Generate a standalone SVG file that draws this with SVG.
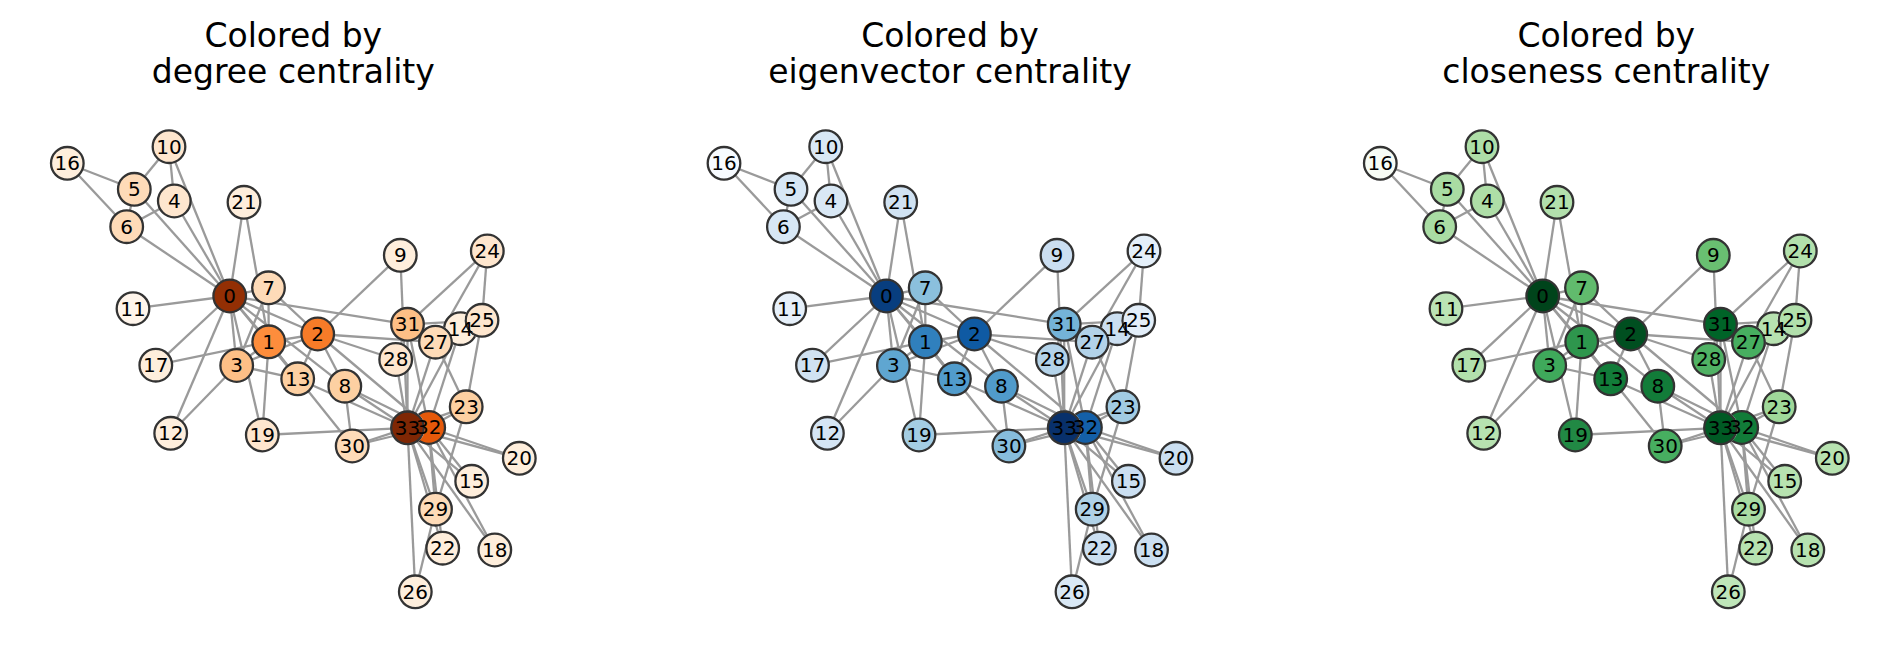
<svg xmlns="http://www.w3.org/2000/svg" width="1900" height="659" viewBox="0 0 1900 659">
<style>
.title{font-family:"DejaVu Sans","Liberation Sans",sans-serif;font-size:33px;text-anchor:middle;fill:#000}
.edges line{stroke:#9a9a9a;stroke-width:2.3;stroke-linecap:butt}
.n circle{stroke:#333;stroke-width:2.3}
.n text{font-family:"DejaVu Sans","Liberation Sans",sans-serif;font-size:20px;text-anchor:middle;fill:#000;transform:translate(0px,0.9px)}
</style>
<defs>
<clipPath id="not33" clipPathUnits="userSpaceOnUse"><path clip-rule="evenodd" d="M-10,-10H670V670H-10Z M425,427.8 A17.5,17.5 0 1 0 390,427.8 A17.5,17.5 0 1 0 425,427.8Z"/></clipPath>
<clipPath id="not25and27" clipPathUnits="userSpaceOnUse"><path clip-rule="evenodd" d="M-10,-10H670V670H-10Z M499.5,320.3 A17.5,17.5 0 1 0 464.5,320.3 A17.5,17.5 0 1 0 499.5,320.3Z M453,342.2 A17.5,17.5 0 1 0 418,342.2 A17.5,17.5 0 1 0 453,342.2Z"/></clipPath>
</defs>
<rect width="1900" height="659" fill="#fff"/>

<!-- ===================== Panel 1: degree ===================== -->
<g id="panel-degree">
<text class="title" x="293.3" y="46.5">Colored by</text>
<text class="title" x="293.3" y="83.3">degree centrality</text>
<g id="deg-edges" class="edges">
<line x1="229.7" y1="296" x2="268.7" y2="341.8"/><line x1="229.7" y1="296" x2="317.7" y2="334"/><line x1="229.7" y1="296" x2="236.7" y2="365.5"/><line x1="229.7" y1="296" x2="174.3" y2="201"/><line x1="229.7" y1="296" x2="134.3" y2="189.3"/><line x1="229.7" y1="296" x2="126.7" y2="226.7"/><line x1="229.7" y1="296" x2="268.5" y2="287.8"/><line x1="229.7" y1="296" x2="344.8" y2="386.2"/><line x1="229.7" y1="296" x2="169" y2="146.7"/><line x1="229.7" y1="296" x2="133" y2="308.7"/><line x1="229.7" y1="296" x2="170.7" y2="433.3"/><line x1="229.7" y1="296" x2="297.7" y2="378.8"/><line x1="229.7" y1="296" x2="155.8" y2="365.2"/><line x1="229.7" y1="296" x2="262.3" y2="435"/><line x1="229.7" y1="296" x2="244" y2="202.3"/><line x1="229.7" y1="296" x2="407.5" y2="324.3"/>
<line x1="268.7" y1="341.8" x2="317.7" y2="334"/><line x1="268.7" y1="341.8" x2="236.7" y2="365.5"/><line x1="268.7" y1="341.8" x2="268.5" y2="287.8"/><line x1="268.7" y1="341.8" x2="297.7" y2="378.8"/><line x1="268.7" y1="341.8" x2="155.8" y2="365.2"/><line x1="268.7" y1="341.8" x2="262.3" y2="435"/><line x1="268.7" y1="341.8" x2="244" y2="202.3"/><line x1="268.7" y1="341.8" x2="352.2" y2="446"/>
<line x1="317.7" y1="334" x2="236.7" y2="365.5"/><line x1="317.7" y1="334" x2="268.5" y2="287.8"/><line x1="317.7" y1="334" x2="344.8" y2="386.2"/><line x1="317.7" y1="334" x2="400.3" y2="255.3"/><line x1="317.7" y1="334" x2="297.7" y2="378.8"/><line x1="317.7" y1="334" x2="435.5" y2="342.2"/><line x1="317.7" y1="334" x2="395.7" y2="359.5"/><line x1="317.7" y1="334" x2="428.7" y2="427.5"/>
<line x1="236.7" y1="365.5" x2="268.5" y2="287.8"/><line x1="236.7" y1="365.5" x2="170.7" y2="433.3"/><line x1="236.7" y1="365.5" x2="297.7" y2="378.8"/>
<line x1="174.3" y1="201" x2="126.7" y2="226.7"/><line x1="174.3" y1="201" x2="169" y2="146.7"/>
<line x1="134.3" y1="189.3" x2="126.7" y2="226.7"/><line x1="134.3" y1="189.3" x2="169" y2="146.7"/><line x1="134.3" y1="189.3" x2="67.3" y2="163.3"/>
<line x1="126.7" y1="226.7" x2="67.3" y2="163.3"/>
<line x1="344.8" y1="386.2" x2="352.2" y2="446"/><line x1="344.8" y1="386.2" x2="428.7" y2="427.5"/><line x1="344.8" y1="386.2" x2="407.5" y2="427.8"/>
<line x1="400.3" y1="255.3" x2="407.5" y2="427.8"/>
<line x1="297.7" y1="378.8" x2="407.5" y2="427.8"/>
<line x1="460.5" y1="328.7" x2="428.7" y2="427.5"/><line x1="460.5" y1="328.7" x2="407.5" y2="427.8"/>
<line x1="471.7" y1="481.3" x2="428.7" y2="427.5"/><line x1="471.7" y1="481.3" x2="407.5" y2="427.8"/>
<line x1="494.8" y1="550" x2="428.7" y2="427.5"/><line x1="494.8" y1="550" x2="407.5" y2="427.8"/>
<line x1="262.3" y1="435" x2="407.5" y2="427.8"/>
<line x1="519.3" y1="458.3" x2="428.7" y2="427.5"/><line x1="519.3" y1="458.3" x2="407.5" y2="427.8"/>
<line x1="442.7" y1="548.2" x2="428.7" y2="427.5"/><line x1="442.7" y1="548.2" x2="407.5" y2="427.8"/>
<line x1="466.2" y1="406.8" x2="482" y2="320.3"/><line x1="466.2" y1="406.8" x2="435.5" y2="342.2"/><line x1="466.2" y1="406.8" x2="435.5" y2="509.2"/><line x1="466.2" y1="406.8" x2="428.7" y2="427.5"/><line x1="466.2" y1="406.8" x2="407.5" y2="427.8"/>
<line x1="487.3" y1="251" x2="482" y2="320.3"/><line x1="487.3" y1="251" x2="435.5" y2="342.2"/><line x1="487.3" y1="251" x2="407.5" y2="324.3"/>
<line x1="482" y1="320.3" x2="407.5" y2="324.3"/>
<line x1="415.3" y1="591.8" x2="435.5" y2="509.2"/><line x1="415.3" y1="591.8" x2="407.5" y2="427.8"/>
<line x1="435.5" y1="342.2" x2="407.5" y2="427.8"/>
<line x1="395.7" y1="359.5" x2="407.5" y2="324.3"/><line x1="395.7" y1="359.5" x2="407.5" y2="427.8"/>
<line x1="435.5" y1="509.2" x2="428.7" y2="427.5"/><line x1="435.5" y1="509.2" x2="407.5" y2="427.8"/>
<line x1="352.2" y1="446" x2="428.7" y2="427.5"/><line x1="352.2" y1="446" x2="407.5" y2="427.8"/>
<line x1="407.5" y1="324.3" x2="428.7" y2="427.5"/><line x1="407.5" y1="324.3" x2="407.5" y2="427.8"/>
<line x1="428.7" y1="427.5" x2="407.5" y2="427.8"/>
</g>
<g id="deg-nodes">
<g id="deg-n0" class="n"><circle cx="229.7" cy="296" r="16.3" fill="#932f04"/><text x="229.7" y="302">0</text></g>
<g id="deg-n1" class="n"><circle cx="268.7" cy="341.8" r="16.3" fill="#fd8d3c"/><text x="268.7" y="347.8">1</text></g>
<g id="deg-n2" class="n"><circle cx="317.7" cy="334" r="16.3" fill="#f77b28"/><text x="317.7" y="340">2</text></g>
<g id="deg-n3" class="n"><circle cx="236.7" cy="365.5" r="16.3" fill="#fdbf86"/><text x="236.7" y="371.5">3</text></g>
<g id="deg-n4" class="n"><circle cx="174.3" cy="201" r="16.3" fill="#fee6ce"/><text x="174.3" y="207">4</text></g>
<g id="deg-n5" class="n"><circle cx="134.3" cy="189.3" r="16.3" fill="#fedbb8"/><text x="134.3" y="195.3">5</text></g>
<g id="deg-n6" class="n"><circle cx="126.7" cy="226.7" r="16.3" fill="#fedbb8"/><text x="126.7" y="232.7">6</text></g>
<g id="deg-n7" class="n"><circle cx="268.5" cy="287.8" r="16.3" fill="#fedbb8"/><text x="268.5" y="293.8">7</text></g>
<g id="deg-n8" class="n"><circle cx="344.8" cy="386.2" r="16.3" fill="#fdd0a2"/><text x="344.8" y="392.2">8</text></g>
<g id="deg-n9" class="n"><circle cx="400.3" cy="255.3" r="16.3" fill="#feeedc"/><text x="400.3" y="261.3">9</text></g>
<g id="deg-n10" class="n"><circle cx="169" cy="146.7" r="16.3" fill="#fee6ce"/><text x="169" y="152.7">10</text></g>
<g id="deg-n11" class="n"><circle cx="133" cy="308.7" r="16.3" fill="#fff5eb"/><text x="133" y="314.7">11</text></g>
<g id="deg-n12" class="n"><circle cx="170.7" cy="433.3" r="16.3" fill="#feeedc"/><text x="170.7" y="439.3">12</text></g>
<g id="deg-n13" class="n"><circle cx="297.7" cy="378.8" r="16.3" fill="#fdd0a2"/><text x="297.7" y="384.8">13</text></g>
<g id="deg-n15" class="n"><circle cx="471.7" cy="481.3" r="16.3" fill="#feeedc"/><text x="471.7" y="487.3">15</text></g>
<g id="deg-n16" class="n"><circle cx="67.3" cy="163.3" r="16.3" fill="#feeedc"/><text x="67.3" y="169.3">16</text></g>
<g id="deg-n17" class="n"><circle cx="155.8" cy="365.2" r="16.3" fill="#feeedc"/><text x="155.8" y="371.2">17</text></g>
<g id="deg-n18" class="n"><circle cx="494.8" cy="550" r="16.3" fill="#feeedc"/><text x="494.8" y="556">18</text></g>
<g id="deg-n19" class="n"><circle cx="262.3" cy="435" r="16.3" fill="#fee6ce"/><text x="262.3" y="441">19</text></g>
<g id="deg-n20" class="n"><circle cx="519.3" cy="458.3" r="16.3" fill="#feeedc"/><text x="519.3" y="464.3">20</text></g>
<g id="deg-n21" class="n"><circle cx="244" cy="202.3" r="16.3" fill="#feeedc"/><text x="244" y="208.3">21</text></g>
<g id="deg-n22" class="n"><circle cx="442.7" cy="548.2" r="16.3" fill="#feeedc"/><text x="442.7" y="554.2">22</text></g>
<g id="deg-n23" class="n"><circle cx="466.2" cy="406.8" r="16.3" fill="#fdd0a2"/><text x="466.2" y="412.8">23</text></g>
<g id="deg-n24" class="n"><circle cx="487.3" cy="251" r="16.3" fill="#fee6ce"/><text x="487.3" y="257">24</text></g>
<g id="deg-n25" class="n"><circle cx="482" cy="320.3" r="16.3" fill="#fee6ce"/><text x="482" y="326.3">25</text></g>
<g id="deg-n26" class="n"><circle cx="415.3" cy="591.8" r="16.3" fill="#feeedc"/><text x="415.3" y="597.8">26</text></g>
<g id="deg-n27" class="n"><circle cx="435.5" cy="342.2" r="16.3" fill="#fedbb8"/><text x="435.5" y="348.2">27</text></g>
<g id="deg-n28" class="n"><circle cx="395.7" cy="359.5" r="16.3" fill="#fee6ce"/><text x="395.7" y="365.5">28</text></g>
<g id="deg-n29" class="n"><circle cx="435.5" cy="509.2" r="16.3" fill="#fedbb8"/><text x="435.5" y="515.2">29</text></g>
<g id="deg-n30" class="n"><circle cx="352.2" cy="446" r="16.3" fill="#fedbb8"/><text x="352.2" y="452">30</text></g>
<g id="deg-n31" class="n"><circle cx="407.5" cy="324.3" r="16.3" fill="#fdbf86"/><text x="407.5" y="330.3">31</text></g>
<g id="deg-n33" class="n"><circle cx="407.5" cy="427.8" r="16.3" fill="#7f2704"/><text x="407.5" y="433.8">33</text></g>
<g id="deg-n32" class="n"><circle cx="428.7" cy="427.5" r="16.3" fill="#e5590a" clip-path="url(#not33)"/><text x="428.7" y="433.5">32</text></g>
<g id="deg-n14" class="n"><circle cx="460.5" cy="328.7" r="16.3" fill="#feeedc" clip-path="url(#not25and27)"/><text x="460.5" y="334.7">14</text></g>
</g>
</g>

<!-- ===================== Panel 2: eigenvector ===================== -->
<g id="panel-eigenvector" transform="translate(656.7,0)">
<text class="title" x="293.3" y="46.5">Colored by</text>
<text class="title" x="293.3" y="83.3">eigenvector centrality</text>
<g id="eig-edges" class="edges">
<line x1="229.7" y1="296" x2="268.7" y2="341.8"/><line x1="229.7" y1="296" x2="317.7" y2="334"/><line x1="229.7" y1="296" x2="236.7" y2="365.5"/><line x1="229.7" y1="296" x2="174.3" y2="201"/><line x1="229.7" y1="296" x2="134.3" y2="189.3"/><line x1="229.7" y1="296" x2="126.7" y2="226.7"/><line x1="229.7" y1="296" x2="268.5" y2="287.8"/><line x1="229.7" y1="296" x2="344.8" y2="386.2"/><line x1="229.7" y1="296" x2="169" y2="146.7"/><line x1="229.7" y1="296" x2="133" y2="308.7"/><line x1="229.7" y1="296" x2="170.7" y2="433.3"/><line x1="229.7" y1="296" x2="297.7" y2="378.8"/><line x1="229.7" y1="296" x2="155.8" y2="365.2"/><line x1="229.7" y1="296" x2="262.3" y2="435"/><line x1="229.7" y1="296" x2="244" y2="202.3"/><line x1="229.7" y1="296" x2="407.5" y2="324.3"/>
<line x1="268.7" y1="341.8" x2="317.7" y2="334"/><line x1="268.7" y1="341.8" x2="236.7" y2="365.5"/><line x1="268.7" y1="341.8" x2="268.5" y2="287.8"/><line x1="268.7" y1="341.8" x2="297.7" y2="378.8"/><line x1="268.7" y1="341.8" x2="155.8" y2="365.2"/><line x1="268.7" y1="341.8" x2="262.3" y2="435"/><line x1="268.7" y1="341.8" x2="244" y2="202.3"/><line x1="268.7" y1="341.8" x2="352.2" y2="446"/>
<line x1="317.7" y1="334" x2="236.7" y2="365.5"/><line x1="317.7" y1="334" x2="268.5" y2="287.8"/><line x1="317.7" y1="334" x2="344.8" y2="386.2"/><line x1="317.7" y1="334" x2="400.3" y2="255.3"/><line x1="317.7" y1="334" x2="297.7" y2="378.8"/><line x1="317.7" y1="334" x2="435.5" y2="342.2"/><line x1="317.7" y1="334" x2="395.7" y2="359.5"/><line x1="317.7" y1="334" x2="428.7" y2="427.5"/>
<line x1="236.7" y1="365.5" x2="268.5" y2="287.8"/><line x1="236.7" y1="365.5" x2="170.7" y2="433.3"/><line x1="236.7" y1="365.5" x2="297.7" y2="378.8"/>
<line x1="174.3" y1="201" x2="126.7" y2="226.7"/><line x1="174.3" y1="201" x2="169" y2="146.7"/>
<line x1="134.3" y1="189.3" x2="126.7" y2="226.7"/><line x1="134.3" y1="189.3" x2="169" y2="146.7"/><line x1="134.3" y1="189.3" x2="67.3" y2="163.3"/>
<line x1="126.7" y1="226.7" x2="67.3" y2="163.3"/>
<line x1="344.8" y1="386.2" x2="352.2" y2="446"/><line x1="344.8" y1="386.2" x2="428.7" y2="427.5"/><line x1="344.8" y1="386.2" x2="407.5" y2="427.8"/>
<line x1="400.3" y1="255.3" x2="407.5" y2="427.8"/>
<line x1="297.7" y1="378.8" x2="407.5" y2="427.8"/>
<line x1="460.5" y1="328.7" x2="428.7" y2="427.5"/><line x1="460.5" y1="328.7" x2="407.5" y2="427.8"/>
<line x1="471.7" y1="481.3" x2="428.7" y2="427.5"/><line x1="471.7" y1="481.3" x2="407.5" y2="427.8"/>
<line x1="494.8" y1="550" x2="428.7" y2="427.5"/><line x1="494.8" y1="550" x2="407.5" y2="427.8"/>
<line x1="262.3" y1="435" x2="407.5" y2="427.8"/>
<line x1="519.3" y1="458.3" x2="428.7" y2="427.5"/><line x1="519.3" y1="458.3" x2="407.5" y2="427.8"/>
<line x1="442.7" y1="548.2" x2="428.7" y2="427.5"/><line x1="442.7" y1="548.2" x2="407.5" y2="427.8"/>
<line x1="466.2" y1="406.8" x2="482" y2="320.3"/><line x1="466.2" y1="406.8" x2="435.5" y2="342.2"/><line x1="466.2" y1="406.8" x2="435.5" y2="509.2"/><line x1="466.2" y1="406.8" x2="428.7" y2="427.5"/><line x1="466.2" y1="406.8" x2="407.5" y2="427.8"/>
<line x1="487.3" y1="251" x2="482" y2="320.3"/><line x1="487.3" y1="251" x2="435.5" y2="342.2"/><line x1="487.3" y1="251" x2="407.5" y2="324.3"/>
<line x1="482" y1="320.3" x2="407.5" y2="324.3"/>
<line x1="415.3" y1="591.8" x2="435.5" y2="509.2"/><line x1="415.3" y1="591.8" x2="407.5" y2="427.8"/>
<line x1="435.5" y1="342.2" x2="407.5" y2="427.8"/>
<line x1="395.7" y1="359.5" x2="407.5" y2="324.3"/><line x1="395.7" y1="359.5" x2="407.5" y2="427.8"/>
<line x1="435.5" y1="509.2" x2="428.7" y2="427.5"/><line x1="435.5" y1="509.2" x2="407.5" y2="427.8"/>
<line x1="352.2" y1="446" x2="428.7" y2="427.5"/><line x1="352.2" y1="446" x2="407.5" y2="427.8"/>
<line x1="407.5" y1="324.3" x2="428.7" y2="427.5"/><line x1="407.5" y1="324.3" x2="407.5" y2="427.8"/>
<line x1="428.7" y1="427.5" x2="407.5" y2="427.8"/>
</g>
<g id="eig-nodes">
<g id="eig-n0" class="n"><circle cx="229.7" cy="296" r="16.3" fill="#083e7f"/><text x="229.7" y="302">0</text></g>
<g id="eig-n1" class="n"><circle cx="268.7" cy="341.8" r="16.3" fill="#3080bd"/><text x="268.7" y="347.8">1</text></g>
<g id="eig-n2" class="n"><circle cx="317.7" cy="334" r="16.3" fill="#0f5aa3"/><text x="317.7" y="340">2</text></g>
<g id="eig-n3" class="n"><circle cx="236.7" cy="365.5" r="16.3" fill="#5fa6d1"/><text x="236.7" y="371.5">3</text></g>
<g id="eig-n4" class="n"><circle cx="174.3" cy="201" r="16.3" fill="#d9e8f5"/><text x="174.3" y="207">4</text></g>
<g id="eig-n5" class="n"><circle cx="134.3" cy="189.3" r="16.3" fill="#d7e7f5"/><text x="134.3" y="195.3">5</text></g>
<g id="eig-n6" class="n"><circle cx="126.7" cy="226.7" r="16.3" fill="#d7e7f5"/><text x="126.7" y="232.7">6</text></g>
<g id="eig-n7" class="n"><circle cx="268.5" cy="287.8" r="16.3" fill="#8bc0dd"/><text x="268.5" y="293.8">7</text></g>
<g id="eig-n8" class="n"><circle cx="344.8" cy="386.2" r="16.3" fill="#509bcb"/><text x="344.8" y="392.2">8</text></g>
<g id="eig-n9" class="n"><circle cx="400.3" cy="255.3" r="16.3" fill="#cbdef1"/><text x="400.3" y="261.3">9</text></g>
<g id="eig-n10" class="n"><circle cx="169" cy="146.7" r="16.3" fill="#d9e8f5"/><text x="169" y="152.7">10</text></g>
<g id="eig-n11" class="n"><circle cx="133" cy="308.7" r="16.3" fill="#e6f0fa"/><text x="133" y="314.7">11</text></g>
<g id="eig-n12" class="n"><circle cx="170.7" cy="433.3" r="16.3" fill="#d5e5f4"/><text x="170.7" y="439.3">12</text></g>
<g id="eig-n13" class="n"><circle cx="297.7" cy="378.8" r="16.3" fill="#519ccc"/><text x="297.7" y="384.8">13</text></g>
<g id="eig-n15" class="n"><circle cx="471.7" cy="481.3" r="16.3" fill="#cbdff1"/><text x="471.7" y="487.3">15</text></g>
<g id="eig-n16" class="n"><circle cx="67.3" cy="163.3" r="16.3" fill="#f7fbff"/><text x="67.3" y="169.3">16</text></g>
<g id="eig-n17" class="n"><circle cx="155.8" cy="365.2" r="16.3" fill="#d0e2f2"/><text x="155.8" y="371.2">17</text></g>
<g id="eig-n18" class="n"><circle cx="494.8" cy="550" r="16.3" fill="#cbdff1"/><text x="494.8" y="556">18</text></g>
<g id="eig-n19" class="n"><circle cx="262.3" cy="435" r="16.3" fill="#a4cde3"/><text x="262.3" y="441">19</text></g>
<g id="eig-n20" class="n"><circle cx="519.3" cy="458.3" r="16.3" fill="#cbdff1"/><text x="519.3" y="464.3">20</text></g>
<g id="eig-n21" class="n"><circle cx="244" cy="202.3" r="16.3" fill="#d0e2f2"/><text x="244" y="208.3">21</text></g>
<g id="eig-n22" class="n"><circle cx="442.7" cy="548.2" r="16.3" fill="#cbdff1"/><text x="442.7" y="554.2">22</text></g>
<g id="eig-n23" class="n"><circle cx="466.2" cy="406.8" r="16.3" fill="#a2cce3"/><text x="466.2" y="412.8">23</text></g>
<g id="eig-n24" class="n"><circle cx="487.3" cy="251" r="16.3" fill="#e4eff9"/><text x="487.3" y="257">24</text></g>
<g id="eig-n25" class="n"><circle cx="482" cy="320.3" r="16.3" fill="#e3eef9"/><text x="482" y="326.3">25</text></g>
<g id="eig-n26" class="n"><circle cx="415.3" cy="591.8" r="16.3" fill="#d9e8f5"/><text x="415.3" y="597.8">26</text></g>
<g id="eig-n27" class="n"><circle cx="435.5" cy="342.2" r="16.3" fill="#b2d2e8"/><text x="435.5" y="348.2">27</text></g>
<g id="eig-n28" class="n"><circle cx="395.7" cy="359.5" r="16.3" fill="#b4d3e9"/><text x="395.7" y="365.5">28</text></g>
<g id="eig-n29" class="n"><circle cx="435.5" cy="509.2" r="16.3" fill="#b0d2e7"/><text x="435.5" y="515.2">29</text></g>
<g id="eig-n30" class="n"><circle cx="352.2" cy="446" r="16.3" fill="#87bddc"/><text x="352.2" y="452">30</text></g>
<g id="eig-n31" class="n"><circle cx="407.5" cy="324.3" r="16.3" fill="#74b3d8"/><text x="407.5" y="330.3">31</text></g>
<g id="eig-n33" class="n"><circle cx="407.5" cy="427.8" r="16.3" fill="#08306b"/><text x="407.5" y="433.8">33</text></g>
<g id="eig-n32" class="n"><circle cx="428.7" cy="427.5" r="16.3" fill="#1460a8" clip-path="url(#not33)"/><text x="428.7" y="433.5">32</text></g>
<g id="eig-n14" class="n"><circle cx="460.5" cy="328.7" r="16.3" fill="#cbdff1" clip-path="url(#not25and27)"/><text x="460.5" y="334.7">14</text></g>
</g>
</g>

<!-- ===================== Panel 3: closeness ===================== -->
<g id="panel-closeness" transform="translate(1313,0)">
<text class="title" x="293.3" y="46.5">Colored by</text>
<text class="title" x="293.3" y="83.3">closeness centrality</text>
<g id="clo-edges" class="edges">
<line x1="229.7" y1="296" x2="268.7" y2="341.8"/><line x1="229.7" y1="296" x2="317.7" y2="334"/><line x1="229.7" y1="296" x2="236.7" y2="365.5"/><line x1="229.7" y1="296" x2="174.3" y2="201"/><line x1="229.7" y1="296" x2="134.3" y2="189.3"/><line x1="229.7" y1="296" x2="126.7" y2="226.7"/><line x1="229.7" y1="296" x2="268.5" y2="287.8"/><line x1="229.7" y1="296" x2="344.8" y2="386.2"/><line x1="229.7" y1="296" x2="169" y2="146.7"/><line x1="229.7" y1="296" x2="133" y2="308.7"/><line x1="229.7" y1="296" x2="170.7" y2="433.3"/><line x1="229.7" y1="296" x2="297.7" y2="378.8"/><line x1="229.7" y1="296" x2="155.8" y2="365.2"/><line x1="229.7" y1="296" x2="262.3" y2="435"/><line x1="229.7" y1="296" x2="244" y2="202.3"/><line x1="229.7" y1="296" x2="407.5" y2="324.3"/>
<line x1="268.7" y1="341.8" x2="317.7" y2="334"/><line x1="268.7" y1="341.8" x2="236.7" y2="365.5"/><line x1="268.7" y1="341.8" x2="268.5" y2="287.8"/><line x1="268.7" y1="341.8" x2="297.7" y2="378.8"/><line x1="268.7" y1="341.8" x2="155.8" y2="365.2"/><line x1="268.7" y1="341.8" x2="262.3" y2="435"/><line x1="268.7" y1="341.8" x2="244" y2="202.3"/><line x1="268.7" y1="341.8" x2="352.2" y2="446"/>
<line x1="317.7" y1="334" x2="236.7" y2="365.5"/><line x1="317.7" y1="334" x2="268.5" y2="287.8"/><line x1="317.7" y1="334" x2="344.8" y2="386.2"/><line x1="317.7" y1="334" x2="400.3" y2="255.3"/><line x1="317.7" y1="334" x2="297.7" y2="378.8"/><line x1="317.7" y1="334" x2="435.5" y2="342.2"/><line x1="317.7" y1="334" x2="395.7" y2="359.5"/><line x1="317.7" y1="334" x2="428.7" y2="427.5"/>
<line x1="236.7" y1="365.5" x2="268.5" y2="287.8"/><line x1="236.7" y1="365.5" x2="170.7" y2="433.3"/><line x1="236.7" y1="365.5" x2="297.7" y2="378.8"/>
<line x1="174.3" y1="201" x2="126.7" y2="226.7"/><line x1="174.3" y1="201" x2="169" y2="146.7"/>
<line x1="134.3" y1="189.3" x2="126.7" y2="226.7"/><line x1="134.3" y1="189.3" x2="169" y2="146.7"/><line x1="134.3" y1="189.3" x2="67.3" y2="163.3"/>
<line x1="126.7" y1="226.7" x2="67.3" y2="163.3"/>
<line x1="344.8" y1="386.2" x2="352.2" y2="446"/><line x1="344.8" y1="386.2" x2="428.7" y2="427.5"/><line x1="344.8" y1="386.2" x2="407.5" y2="427.8"/>
<line x1="400.3" y1="255.3" x2="407.5" y2="427.8"/>
<line x1="297.7" y1="378.8" x2="407.5" y2="427.8"/>
<line x1="460.5" y1="328.7" x2="428.7" y2="427.5"/><line x1="460.5" y1="328.7" x2="407.5" y2="427.8"/>
<line x1="471.7" y1="481.3" x2="428.7" y2="427.5"/><line x1="471.7" y1="481.3" x2="407.5" y2="427.8"/>
<line x1="494.8" y1="550" x2="428.7" y2="427.5"/><line x1="494.8" y1="550" x2="407.5" y2="427.8"/>
<line x1="262.3" y1="435" x2="407.5" y2="427.8"/>
<line x1="519.3" y1="458.3" x2="428.7" y2="427.5"/><line x1="519.3" y1="458.3" x2="407.5" y2="427.8"/>
<line x1="442.7" y1="548.2" x2="428.7" y2="427.5"/><line x1="442.7" y1="548.2" x2="407.5" y2="427.8"/>
<line x1="466.2" y1="406.8" x2="482" y2="320.3"/><line x1="466.2" y1="406.8" x2="435.5" y2="342.2"/><line x1="466.2" y1="406.8" x2="435.5" y2="509.2"/><line x1="466.2" y1="406.8" x2="428.7" y2="427.5"/><line x1="466.2" y1="406.8" x2="407.5" y2="427.8"/>
<line x1="487.3" y1="251" x2="482" y2="320.3"/><line x1="487.3" y1="251" x2="435.5" y2="342.2"/><line x1="487.3" y1="251" x2="407.5" y2="324.3"/>
<line x1="482" y1="320.3" x2="407.5" y2="324.3"/>
<line x1="415.3" y1="591.8" x2="435.5" y2="509.2"/><line x1="415.3" y1="591.8" x2="407.5" y2="427.8"/>
<line x1="435.5" y1="342.2" x2="407.5" y2="427.8"/>
<line x1="395.7" y1="359.5" x2="407.5" y2="324.3"/><line x1="395.7" y1="359.5" x2="407.5" y2="427.8"/>
<line x1="435.5" y1="509.2" x2="428.7" y2="427.5"/><line x1="435.5" y1="509.2" x2="407.5" y2="427.8"/>
<line x1="352.2" y1="446" x2="428.7" y2="427.5"/><line x1="352.2" y1="446" x2="407.5" y2="427.8"/>
<line x1="407.5" y1="324.3" x2="428.7" y2="427.5"/><line x1="407.5" y1="324.3" x2="407.5" y2="427.8"/>
<line x1="428.7" y1="427.5" x2="407.5" y2="427.8"/>
</g>
<g id="clo-nodes">
<g id="clo-n0" class="n"><circle cx="229.7" cy="296" r="16.3" fill="#00441b"/><text x="229.7" y="302">0</text></g>
<g id="clo-n1" class="n"><circle cx="268.7" cy="341.8" r="16.3" fill="#2e964d"/><text x="268.7" y="347.8">1</text></g>
<g id="clo-n2" class="n"><circle cx="317.7" cy="334" r="16.3" fill="#004f20"/><text x="317.7" y="340">2</text></g>
<g id="clo-n3" class="n"><circle cx="236.7" cy="365.5" r="16.3" fill="#3fa95b"/><text x="236.7" y="371.5">3</text></g>
<g id="clo-n4" class="n"><circle cx="174.3" cy="201" r="16.3" fill="#aedea7"/><text x="174.3" y="207">4</text></g>
<g id="clo-n5" class="n"><circle cx="134.3" cy="189.3" r="16.3" fill="#a9dca3"/><text x="134.3" y="195.3">5</text></g>
<g id="clo-n6" class="n"><circle cx="126.7" cy="226.7" r="16.3" fill="#a9dca3"/><text x="126.7" y="232.7">6</text></g>
<g id="clo-n7" class="n"><circle cx="268.5" cy="287.8" r="16.3" fill="#61bb6d"/><text x="268.5" y="293.8">7</text></g>
<g id="clo-n8" class="n"><circle cx="344.8" cy="386.2" r="16.3" fill="#127c39"/><text x="344.8" y="392.2">8</text></g>
<g id="clo-n9" class="n"><circle cx="400.3" cy="255.3" r="16.3" fill="#69bf71"/><text x="400.3" y="261.3">9</text></g>
<g id="clo-n10" class="n"><circle cx="169" cy="146.7" r="16.3" fill="#aedea7"/><text x="169" y="152.7">10</text></g>
<g id="clo-n11" class="n"><circle cx="133" cy="308.7" r="16.3" fill="#bbe4b5"/><text x="133" y="314.7">11</text></g>
<g id="clo-n12" class="n"><circle cx="170.7" cy="433.3" r="16.3" fill="#b7e2b0"/><text x="170.7" y="439.3">12</text></g>
<g id="clo-n13" class="n"><circle cx="297.7" cy="378.8" r="16.3" fill="#127c39"/><text x="297.7" y="384.8">13</text></g>
<g id="clo-n15" class="n"><circle cx="471.7" cy="481.3" r="16.3" fill="#b7e2b0"/><text x="471.7" y="487.3">15</text></g>
<g id="clo-n16" class="n"><circle cx="67.3" cy="163.3" r="16.3" fill="#f7fcf5"/><text x="67.3" y="169.3">16</text></g>
<g id="clo-n17" class="n"><circle cx="155.8" cy="365.2" r="16.3" fill="#b2e0ac"/><text x="155.8" y="371.2">17</text></g>
<g id="clo-n18" class="n"><circle cx="494.8" cy="550" r="16.3" fill="#b7e2b0"/><text x="494.8" y="556">18</text></g>
<g id="clo-n19" class="n"><circle cx="262.3" cy="435" r="16.3" fill="#218944"/><text x="262.3" y="441">19</text></g>
<g id="clo-n20" class="n"><circle cx="519.3" cy="458.3" r="16.3" fill="#b7e2b0"/><text x="519.3" y="464.3">20</text></g>
<g id="clo-n21" class="n"><circle cx="244" cy="202.3" r="16.3" fill="#b2e0ac"/><text x="244" y="208.3">21</text></g>
<g id="clo-n22" class="n"><circle cx="442.7" cy="548.2" r="16.3" fill="#b7e2b0"/><text x="442.7" y="554.2">22</text></g>
<g id="clo-n23" class="n"><circle cx="466.2" cy="406.8" r="16.3" fill="#9fd899"/><text x="466.2" y="412.8">23</text></g>
<g id="clo-n24" class="n"><circle cx="487.3" cy="251" r="16.3" fill="#b2e0ac"/><text x="487.3" y="257">24</text></g>
<g id="clo-n25" class="n"><circle cx="482" cy="320.3" r="16.3" fill="#b2e0ac"/><text x="482" y="326.3">25</text></g>
<g id="clo-n26" class="n"><circle cx="415.3" cy="591.8" r="16.3" fill="#bfe6b9"/><text x="415.3" y="597.8">26</text></g>
<g id="clo-n27" class="n"><circle cx="435.5" cy="342.2" r="16.3" fill="#47ae60"/><text x="435.5" y="348.2">27</text></g>
<g id="clo-n28" class="n"><circle cx="395.7" cy="359.5" r="16.3" fill="#50b264"/><text x="395.7" y="365.5">28</text></g>
<g id="clo-n29" class="n"><circle cx="435.5" cy="509.2" r="16.3" fill="#a9dca3"/><text x="435.5" y="515.2">29</text></g>
<g id="clo-n30" class="n"><circle cx="352.2" cy="446" r="16.3" fill="#47ae60"/><text x="352.2" y="452">30</text></g>
<g id="clo-n31" class="n"><circle cx="407.5" cy="324.3" r="16.3" fill="#006428"/><text x="407.5" y="330.3">31</text></g>
<g id="clo-n33" class="n"><circle cx="407.5" cy="427.8" r="16.3" fill="#005a24"/><text x="407.5" y="433.8">33</text></g>
<g id="clo-n32" class="n"><circle cx="428.7" cy="427.5" r="16.3" fill="#127c39" clip-path="url(#not33)"/><text x="428.7" y="433.5">32</text></g>
<g id="clo-n14" class="n"><circle cx="460.5" cy="328.7" r="16.3" fill="#b7e2b0" clip-path="url(#not25and27)"/><text x="460.5" y="334.7">14</text></g>
</g>
</g>
</svg>
